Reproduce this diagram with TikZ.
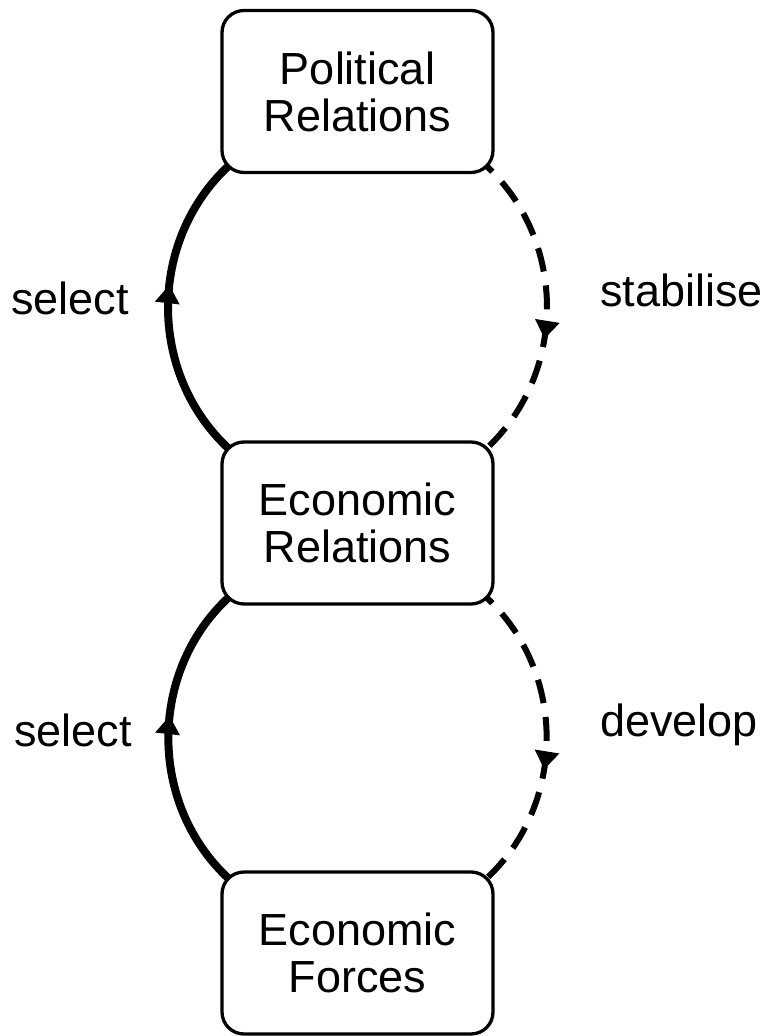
\documentclass[tikz,border=0pt]{standalone}
\usepackage{fontspec}
\setmainfont{Liberation Sans}
\usetikzlibrary{calc,decorations.markings}
\begin{document}
\begin{tikzpicture}[x=1pt,y=1pt,
  box/.style={draw, line width=3.3pt, rounded corners=22pt, minimum width=271pt, minimum height=162pt,
    inner sep=0pt, outer sep=0pt, align=center, font=\fontsize{45}{47}\selectfont},
  lbl/.style={anchor=base west, inner sep=0pt, font=\fontsize{45}{47}\selectfont},
  midarrow/.style={postaction={decorate,decoration={markings,
    mark=at position #1 with {\fill[solid] (-18pt,-12.5pt) -- (0pt,0pt) -- (-18pt,12.5pt) -- cycle;}}}},
  selectline/.style={line width=8pt},
  feedline/.style={line width=6pt, dash pattern=on 24pt off 14pt, dash phase=16pt}]
\useasboundingbox (0,0) rectangle (768,1036);
\node[box] (pr) at (357.5,944.5) {Political\\Relations};
\node[box] (er) at (357.5,513) {Economic\\Relations};
\node[box] (ef) at (357.5,83) {Economic\\Forces};
\coordinate (pr-sw) at ($(pr.south west)+(6.4,6.4)$);
\coordinate (pr-se) at ($(pr.south east)+(-6.4,6.4)$);
\coordinate (er-nw) at ($(er.north west)+(6.4,-6.4)$);
\coordinate (er-ne) at ($(er.north east)+(-6.4,-6.4)$);
\coordinate (er-sw) at ($(er.south west)+(6.4,6.4)$);
\coordinate (er-se) at ($(er.south east)+(-6.4,6.4)$);
\coordinate (ef-nw) at ($(ef.north west)+(6.4,-6.4)$);
\coordinate (ef-ne) at ($(ef.north east)+(-6.4,-6.4)$);
\draw[selectline, midarrow=0.57] (er-nw) to[bend left=47] (pr-sw);
\draw[feedline, midarrow=0.6] (pr-se) to[bend left=47] (er-ne);
\draw[selectline, midarrow=0.57] (ef-nw) to[bend left=47] (er-sw);
\draw[feedline, midarrow=0.6] (er-se) to[bend left=47] (ef-ne);
\node[lbl] (sel1) at (11,721) {select};
\node[lbl] (stab) at (600,729) {stabilise};
\node[lbl] (sel2) at (14,289) {select};
\node[lbl] (dev) at (600,299) {develop};
\end{tikzpicture}
\end{document}
